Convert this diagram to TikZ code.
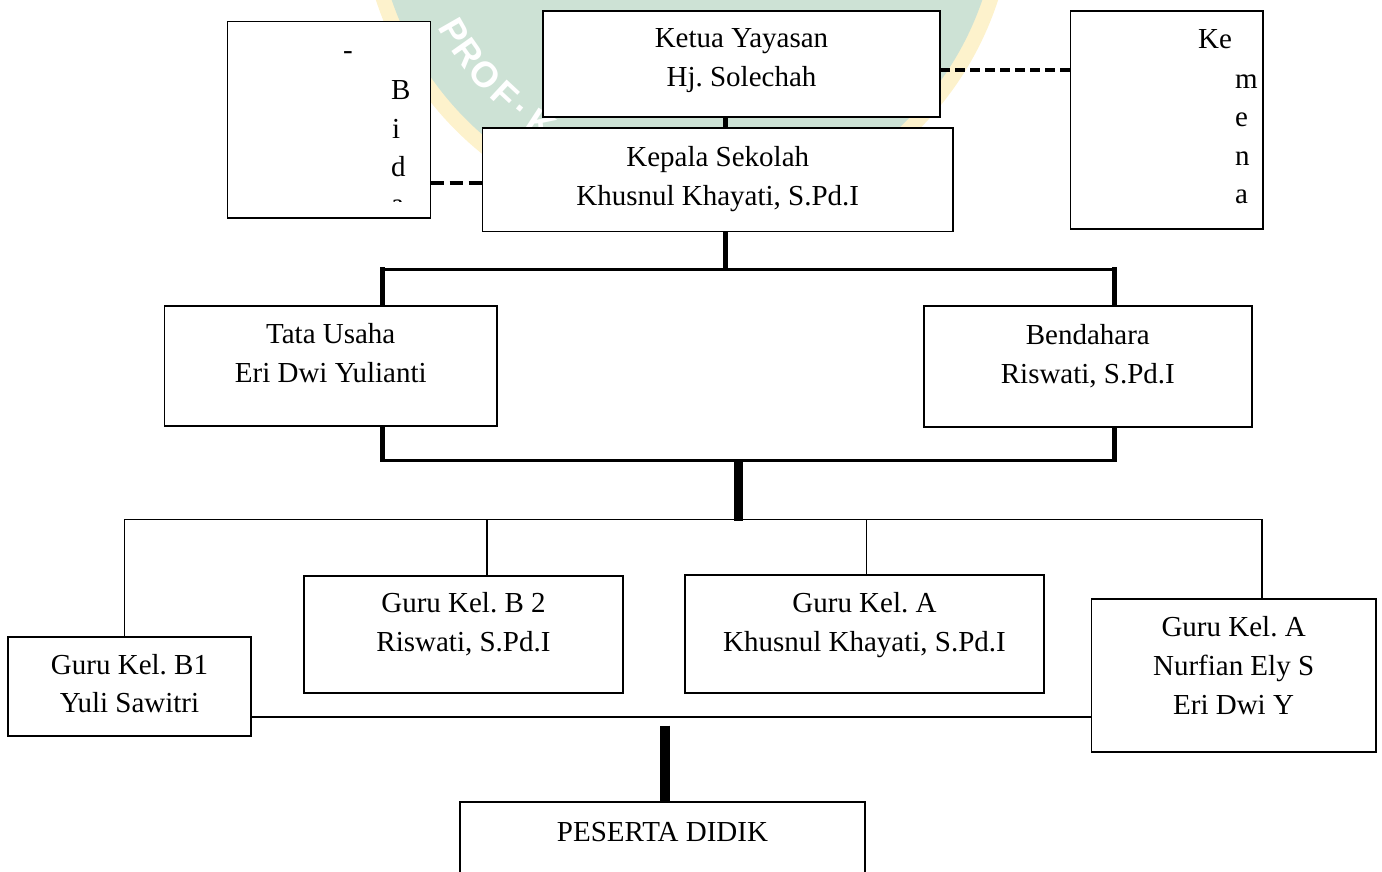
\documentclass[tikz,border=0pt]{standalone}
\usepackage{fontspec}
\setmainfont{Liberation Serif}
\newfontfamily\wmfont{Liberation Sans}
\usetikzlibrary{calc}
\definecolor{wmgreen}{RGB}{205,226,213}
\definecolor{wmyellow}{RGB}{253,242,204}
\newcommand\fst{\rule{0pt}{21pt}}
\frenchspacing
\begin{document}
\begin{tikzpicture}[x=1pt,y=-1pt,
  box/.style={draw=black, line width=1.8pt, fill=white, inner sep=0pt, outer sep=0pt, anchor=north west},
  txt/.style={inner sep=0pt, anchor=north, align=center, font=\frenchspacing\fontsize{29}{38.7}\selectfont},
  ltr/.style={inner sep=0pt, anchor=base west, font=\fontsize{29}{38.7}\selectfont},
  wm/.style={inner sep=0pt, text=white, font=\wmfont\bfseries\fontsize{36}{40}\selectfont},
  vbar/.style={line width=5pt},
  hbar/.style={line width=3pt},
  mbar/.style={line width=9pt},
  pbar/.style={line width=10pt},
  thin/.style={line width=1.8pt},
  dashline/.style={line width=3.8pt, dash pattern=on 10pt off 5pt},
  dashlinetwo/.style={line width=3.8pt, dash pattern=on 13pt off 6pt}
]
\useasboundingbox (0,0) rectangle (1382,872);
\clip (0,0) rectangle (1382,872);

% watermark
\coordinate (wc) at (687,-101);
\fill[wmyellow] (wc) circle[radius=327pt];
\fill[wmgreen] (wc) circle[radius=312pt];
\foreach \a/\l [count=\i] in {150.2/P,144.8/R,138.9/O,132.9/F,128.6/.,123/K}
  \node[wm, rotate=90-\a] (wm\i) at ($(wc)+(\a:268)$) {\l};

% boxes
\node[box, minimum width=203pt, minimum height=196.5pt] (bid) at (227.5,21.5) {};
\node[box, minimum width=397pt, minimum height=105.7pt] (ketua) at (543,11) {};
\node[box, minimum width=470.5pt, minimum height=103.3pt] (kepala) at (482.5,128.2) {};
\node[box, minimum width=192.5pt, minimum height=218pt] (kem) at (1070.5,11) {};
\node[box, minimum width=332.5pt, minimum height=119.7pt] (tu) at (164.5,306) {};
\node[box, minimum width=327.7pt, minimum height=121.3pt] (bd) at (924,306) {};
\node[box, minimum width=242.4pt, minimum height=98.4pt] (g1) at (8.3,637.3) {};
\node[box, minimum width=319pt, minimum height=117pt] (g2) at (304,575.7) {};
\node[box, minimum width=359pt, minimum height=117.7pt] (g3) at (685,575) {};
\node[box, minimum width=284.2pt, minimum height=153pt] (g4) at (1091.5,599) {};
\node[box, minimum width=405pt, minimum height=110pt] (pd) at (460,802) {};

% texts
\node[txt] (tketua) at ($(ketua.north)+(0,15.3)$) {\fst Ketua Yayasan\\Hj. Solechah};
\node[txt] (tkepala) at ($(kepala.north)+(0,17)$) {\fst Kepala Sekolah\\Khusnul Khayati, S.Pd.I};
\node[txt] (ttu) at ($(tu.north)+(0,16.3)$) {\fst Tata Usaha\\Eri Dwi Yulianti};
\node[txt] (tbd) at ($(bd.north)+(0,17.3)$) {\fst Bendahara\\Riswati, S.Pd.I};
\node[txt] (tg1) at ($(g1.north)+(0,15.5)$) {\fst Guru Kel. B1\\Yuli Sawitri};
\node[txt] (tg2) at ($(g2.north)+(0,15.5)$) {\fst Guru Kel. B 2\\Riswati, S.Pd.I};
\node[txt] (tg3) at ($(g3.north)+(0,16.5)$) {\fst Guru Kel. A\\Khusnul Khayati, S.Pd.I};
\node[txt] (tg4) at ($(g4.north)+(0,16.7)$) {\fst Guru Kel. A\\Nurfian Ely S\\Eri Dwi Y};
\node[txt] (tpd) at ($(pd.north)+(0,18)$) {\fst PESERTA DIDIK};

% Kemena letters
\node[ltr] (k1) at (1198,48.3) {Ke};
\node[ltr] (k2) at (1235,88.3) {m};
\node[ltr] (k3) at (1235,126.7) {e};
\node[ltr] (k4) at (1235,165.7) {n};
\node[ltr] (k5) at (1235,203.3) {a};

% Bidang letters (clipped inside the box)
\begin{scope}
\clip (229,23) rectangle (429,201);
\node[ltr] (b0) at (343,60) {-};
\node[ltr] (b1) at (391,100) {B};
\node[ltr] (b2) at (392,138.5) {i};
\node[ltr] (b3) at (391,176.7) {d};
\node[ltr] (b4) at (391,213) {a};
\end{scope}

% connectors
\coordinate (j1) at (725.5,269);
\draw[vbar] (ketua.south -| j1) -- (kepala.north -| j1);
\draw[vbar] (kepala.south -| j1) -- (j1);
\coordinate (jl) at (382,269);
\coordinate (jr) at (1114,269);
\draw[hbar] (jl) -- (jr);
\draw[vbar] ($(jl)+(0,-2)$) -- (tu.north -| jl);
\draw[vbar] ($(jr)+(0,-2)$) -- (bd.north -| jr);
\coordinate (kl) at (382,460);
\coordinate (kr) at (1114,460);
\draw[vbar] (tu.south -| kl) -- ($(kl)+(0,1.5)$);
\draw[vbar] (bd.south -| kr) -- ($(kr)+(0,1.5)$);
\draw[hbar] (kl) -- (kr);
\coordinate (m1) at (738,461.5);
\coordinate (m2) at (738,520.5);
\draw[mbar] (m1) -- (m2);
\coordinate (la) at (124.5,519.5);
\coordinate (lb) at (1262,519.5);
\draw[thin] (g1.north -| la) -- (la) -- (lb) -- (g4.north -| lb);
\coordinate (l2) at (487,519.5);
\draw[thin] (l2) -- (g2.north -| l2);
\coordinate (l3) at (866.5,519.5);
\draw[thin] (l3) -- (g3.north -| l3);
\coordinate (bb) at (0,717);
\draw[thin] (g1.east |- bb) -- (g4.west |- bb);
\coordinate (p1) at (665,725.5);
\draw[pbar] (p1) -- (pd.north -| p1);
\coordinate (d1) at (0,70.3);
\draw[dashline] (ketua.east |- d1) -- (kem.west |- d1);
\coordinate (d2) at (0,182.7);
\draw[dashlinetwo] (bid.east |- d2) -- (kepala.west |- d2);
\end{tikzpicture}
\end{document}
